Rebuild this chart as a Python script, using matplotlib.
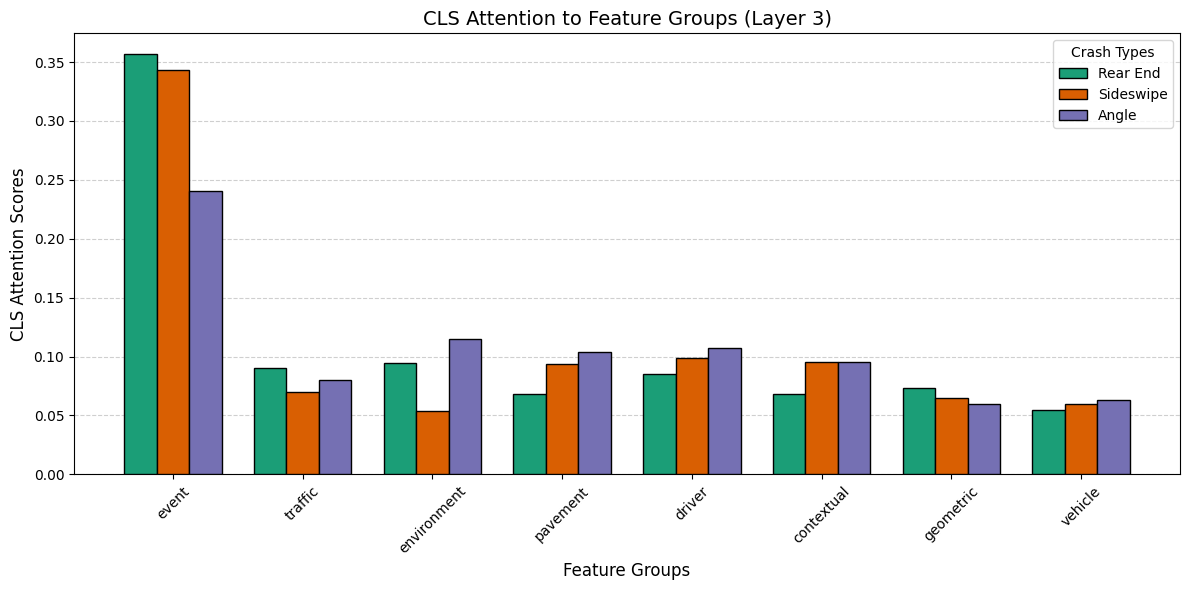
import matplotlib
matplotlib.use("Agg")
import matplotlib.pyplot as plt
import numpy as np

groups = ["event", "traffic", "environment", "pavement", "driver", "contextual", "geometric", "vehicle"]
series_names = ["Rear End", "Sideswipe", "Angle"]
rear_end = [0.3566, 0.0905, 0.0942, 0.0686, 0.0848, 0.0678, 0.0737, 0.0550]
sideswipe = [0.3432, 0.0703, 0.0540, 0.0933, 0.0984, 0.0950, 0.0652, 0.0601]
angle = [0.2402, 0.0803, 0.1152, 0.1035, 0.1069, 0.0958, 0.0601, 0.0627]
colors = ["#1b9e77", "#d95f02", "#7570b3"]

fig, ax = plt.subplots(figsize=(12, 6), dpi=100)
x = np.arange(len(groups))
w = 0.25
for i, (vals, name) in enumerate(zip([rear_end, sideswipe, angle], series_names)):
    ax.bar(x + (i - 1) * w, vals, w, label=name, color=colors[i], edgecolor="black", zorder=3)

ax.set_xticks(x)
ax.set_xticklabels(groups, rotation=45)
ax.set_xlabel("Feature Groups", fontsize=12)
ax.set_ylabel("CLS Attention Scores", fontsize=12)
ax.set_title("CLS Attention to Feature Groups (Layer 3)", fontsize=14)
ax.grid(axis="y", linestyle="--", alpha=0.6, zorder=0)
ax.legend(title="Crash Types", loc="upper right")
fig.tight_layout()
fig.savefig("out.png", dpi=100, bbox_inches="tight")
